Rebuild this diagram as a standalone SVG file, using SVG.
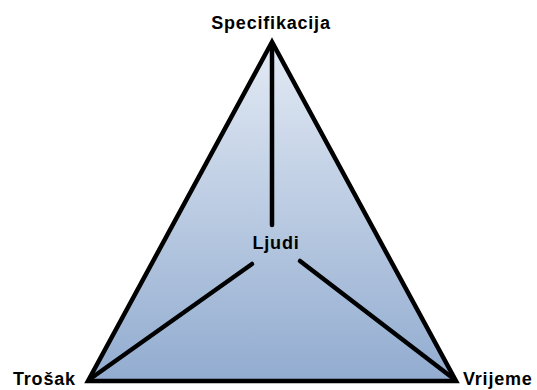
<svg xmlns="http://www.w3.org/2000/svg" width="537" height="390" viewBox="0 0 537 390">
<defs>
<linearGradient id="g" x1="0" y1="0" x2="0" y2="1">
<stop offset="0" stop-color="#e3eaf4"/>
<stop offset="1" stop-color="#92acd0"/>
</linearGradient>
<style>
.l{stroke:#000;stroke-width:4.5;fill:none;stroke-linecap:round;stroke-linejoin:round}
.t{font-family:"Liberation Sans",Arial,sans-serif;font-weight:bold;font-size:18px;letter-spacing:0.8px;fill:#000}
</style>
</defs>
<g id="triangle">
<polygon points="272,42 88,381 456,381" fill="url(#g)" stroke="#000" stroke-width="4.5" stroke-linejoin="miter"/>
</g>
<g id="connectors">
<line class="l" x1="272" y1="44" x2="272" y2="225"/>
<line class="l" x1="90" y1="379" x2="252" y2="264"/>
<line class="l" x1="454" y1="379" x2="300" y2="261"/>
</g>
<g id="specifikacija"><text class="t" x="271" y="29" text-anchor="middle">Specifikacija</text></g>
<g id="ljudi"><text class="t" x="276" y="249" text-anchor="middle">Ljudi</text></g>
<g id="trosak"><text class="t" x="13" y="385">Trošak</text></g>
<g id="vrijeme"><text class="t" x="463" y="385">Vrijeme</text></g>
</svg>
